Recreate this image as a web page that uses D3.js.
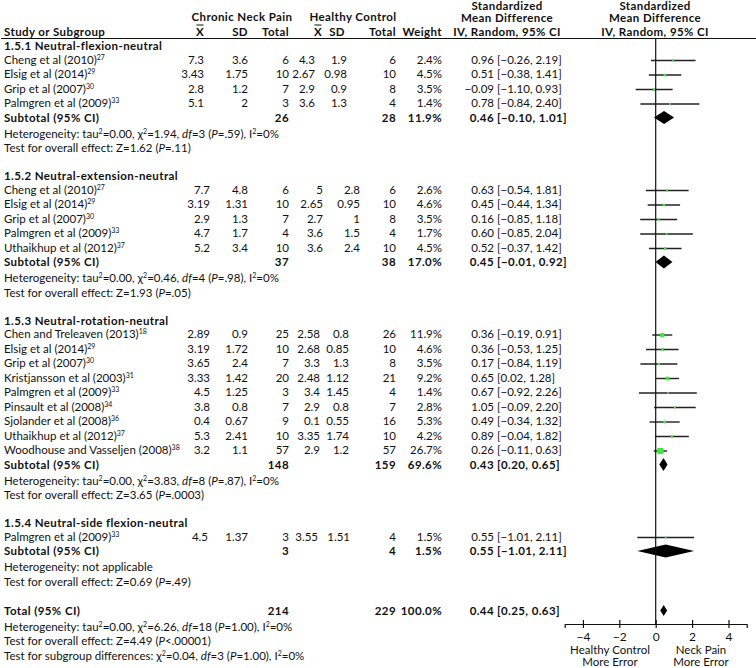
<!DOCTYPE html>
<html><head><meta charset="utf-8">
<script src="https://cdn.jsdelivr.net/npm/d3@7"></script>
<style>
body{margin:0;background:#fff}
svg{display:block}
text{font-family:Lato,'Open Sans',sans-serif;font-size:11.5px;fill:#111}
text.b{font-weight:bold;letter-spacing:0.4px}
</style>
</head><body>
<svg id="chart" width="756" height="668"></svg>
<script>
// ---------------- DATA ----------------
const groupTitles = ["1.5.1 Neutral-flexion-neutral","1.5.2 Neutral-extension-neutral","1.5.3 Neutral-rotation-neutral","1.5.4 Neutral-side flexion-neutral"];
const studyGroup = [0,0,0,0, 1,1,1,1,1, 2,2,2,2,2,2,2,2,2, 3];
const studyNames = ["Cheng et al (2010)","Elsig et al (2014)","Grip et al (2007)","Palmgren et al (2009)",
  "Cheng et al (2010)","Elsig et al (2014)","Grip et al (2007)","Palmgren et al (2009)","Uthaikhup et al (2012)",
  "Chen and Treleaven (2013)","Elsig et al (2014)","Grip et al (2007)","Kristjansson et al (2003)","Palmgren et al (2009)","Pinsault et al (2008)","Sjolander et al (2008)","Uthaikhup et al (2012)","Woodhouse and Vasseljen (2008)",
  "Palmgren et al (2009)"];
const studyRefs = ["27","29","30","33", "27","29","30","33","37", "18","29","30","31","33","34","36","37","38", "33"];
const cnpMean = [7.3,3.43,2.8,5.1, 7.7,3.19,2.9,4.7,5.2, 2.89,3.19,3.65,3.33,4.5,3.8,0.4,5.3,3.2, 4.5];
const cnpSD   = [3.6,1.75,1.2,2, 4.8,1.31,1.3,1.7,3.4, 0.9,1.72,2.4,1.42,1.25,0.8,0.67,2.41,1.1, 1.37];
const cnpN    = [6,10,7,3, 6,10,7,4,10, 25,10,7,20,3,7,9,10,57, 3];
const hcMean  = [4.3,2.67,2.9,3.6, 5,2.65,2.7,3.6,3.6, 2.58,2.68,3.3,2.48,3.4,2.9,0.1,3.35,2.9, 3.55];
const hcSD    = [1.9,0.98,0.9,1.3, 2.8,0.95,1,1.5,2.4, 0.8,0.85,1.3,1.12,1.45,0.8,0.55,1.74,1.2, 1.51];
const hcN     = [6,10,8,4, 6,10,8,4,10, 26,10,8,21,4,7,16,10,57, 4];
const studyWeight = [2.4,4.5,3.5,1.4, 2.6,4.6,3.5,1.7,4.5, 11.9,4.6,3.5,9.2,1.4,2.8,5.3,4.2,26.7, 1.5];
const studySMD = [0.96,0.51,-0.09,0.78, 0.63,0.45,0.16,0.60,0.52, 0.36,0.36,0.17,0.65,0.67,1.05,0.49,0.89,0.26, 0.55];
const studyLow = [-0.26,-0.38,-1.10,-0.84, -0.54,-0.44,-0.85,-0.85,-0.37, -0.19,-0.53,-0.84,0.02,-0.92,-0.09,-0.34,-0.04,-0.11, -1.01];
const studyHigh = [2.19,1.41,0.93,2.40, 1.81,1.34,1.18,2.04,1.42, 0.91,1.25,1.19,1.28,2.26,2.20,1.32,1.82,0.63, 2.11];

const subN1 = [26,37,148,3];
const subN2 = [28,38,159,4];
const subWeight = [11.9,17.0,69.6,1.5];
const subSMD = [0.46,0.45,0.43,0.55];
const subLow = [-0.10,-0.01,0.20,-1.01];
const subHigh = [1.01,0.92,0.65,2.11];
const hetTau2 = [0.00,0.00,0.00,null];
const hetChi2 = [1.94,0.46,3.83,null];
const hetDf = [3,4,8,null];
const hetP = [".59",".98",".87",null];
const hetI2 = [0,0,0,null];
const effZ = [1.62,1.93,3.65,0.69];
const effP = ["=.11","=.05","=.0003","=.49"];

const totalN1 = 214, totalN2 = 229, totalWeight = 100.0;
const totalSMD = 0.44, totalLow = 0.25, totalHigh = 0.63;
const totalHet = {tau2:0.00, chi2:6.26, df:18, p:"1.00", i2:0};
const totalZ = 4.49, totalP = "<.00001";
const subgroupDiff = {chi2:0.04, df:3, p:"1.00", i2:0};

const axisTicks = [-4,-2,0,2,4];
const axisDomain = [-5,5];
const leftAxisLabel = ["Healthy Control","More Error"];
const rightAxisLabel = ["Neck Pain","More Error"];

// ---------------- LAYOUT ----------------
const svg = d3.select("#chart");
const f2 = d3.format(".2f"), f1 = d3.format(".1f");
const x = d3.scaleLinear().domain(axisDomain).range([564.7, 746.7]);
const colCnpMean = [204,210,210,208];
const colCnpSD = 248, colCnpN = 289;
const colHcMean = [315,323,320,318];
const colHcSD = [347,360,349,350];
const colHcN = 396, colWeight = 442, colEstEnd = 494, colCIStart = 497;

function txt(xp, y, s, opt={}) {
  const t = svg.append("text").attr("x", xp).attr("y", y).text(s);
  if (opt.anchor) t.attr("text-anchor", opt.anchor);
  if (opt.bold) t.attr("class", "b");
  if (opt.size) t.style("font-size", opt.size + "px");
  return t;
}
function rich(xp, y, segs, opt={}) {
  const t = svg.append("text").attr("x", xp).attr("y", y);
  if (opt.bold) t.attr("class", "b");
  let shift = 0;
  segs.forEach(([s, st]) => {
    const ts = t.append("tspan").text(s);
    if (st === "sup") { ts.attr("dy", -4).style("font-size", "7px"); shift += 4; }
    else {
      if (shift) { ts.attr("dy", shift); shift = 0; }
      if (st === "it") ts.attr("font-style", "italic");
    }
  });
  return t;
}
function hetSegs(tau2, chi2, df, p, i2) {
  return [["Heterogeneity: tau",""],["2","sup"],["="+f2(tau2)+", χ",""],["2","sup"],["="+f2(chi2)+", ",""],
    ["df","it"],["="+df+" (",""],["P","it"],["="+p+"), I",""],["2","sup"],["="+i2+"%",""]];
}
function ciText(y, est, lo, hi, bold) {
  txt(colEstEnd, y, f2(est), {anchor:"end", bold});
  txt(colCIStart, y, "[" + f2(lo) + ", " + f2(hi) + "]", {bold});
}
function diamond(y, est, lo, hi, h) {
  svg.append("path")
    .attr("d", `M${x(lo)},${y}L${x(est)},${y-h}L${x(hi)},${y}L${x(est)},${y+h}Z`)
    .attr("fill", "#000");
}

// headers
const H1 = 21, H2 = 35.5;
txt(242, H1, "Chronic Neck Pain", {anchor:"middle", bold:true});
txt(353, H1, "Healthy Control", {anchor:"middle", bold:true});
txt(4, H2, "Study or Subgroup", {bold:true});
[200, 318].forEach(cx => {
  txt(cx, H2, "X", {anchor:"middle", bold:true});
  svg.append("line").attr("x1", cx-3.5).attr("x2", cx+3.5).attr("y1", H2-10.5).attr("y2", H2-10.5)
    .attr("stroke", "#111").attr("stroke-width", 1);
});
txt(colCnpSD, H2, "SD", {anchor:"end", bold:true});
txt(colCnpN, H2, "Total", {anchor:"end", bold:true});
txt(345, H2, "SD", {anchor:"end", bold:true});
txt(colHcN, H2, "Total", {anchor:"end", bold:true});
txt(colWeight, H2, "Weight", {anchor:"end", bold:true});
[507, 655].forEach(cx => {
  txt(cx, 10, "Standardized", {anchor:"middle", bold:true});
  txt(cx, 22, "Mean Difference", {anchor:"middle", bold:true});
  txt(cx, H2, "IV, Random, 95% CI", {anchor:"middle", bold:true});
});
svg.append("line").attr("x1", 1).attr("x2", 756).attr("y1", 38.5).attr("y2", 38.5)
  .attr("stroke", "#111").attr("stroke-width", 1);

// rows
let y = 46;
const BL = 4;
groupTitles.forEach((title, gi) => {
  txt(4, y + BL, title, {bold:true});
  y += 13.5;
  studyNames.forEach((name, i) => {
    if (studyGroup[i] !== gi) return;
    rich(4, y + BL, [[name,""],[studyRefs[i],"sup"]]);
    txt(colCnpMean[gi], y + BL, String(cnpMean[i]), {anchor:"end"});
    txt(colCnpSD, y + BL, String(cnpSD[i]), {anchor:"end"});
    txt(colCnpN, y + BL, String(cnpN[i]), {anchor:"end"});
    txt(colHcMean[gi], y + BL, String(hcMean[i]), {anchor:"end"});
    txt(colHcSD[gi], y + BL, String(hcSD[i]), {anchor:"end"});
    txt(colHcN, y + BL, String(hcN[i]), {anchor:"end"});
    txt(colWeight, y + BL, f1(studyWeight[i]) + "%", {anchor:"end"});
    ciText(y + BL, studySMD[i], studyLow[i], studyHigh[i], false);
    const my = y + 1;
    svg.append("line").attr("x1", x(studyLow[i])).attr("x2", x(studyHigh[i]))
      .attr("y1", my).attr("y2", my).attr("stroke", "#222").attr("stroke-width", 1.4);
    const s = Math.max(1.8, 1.2 * Math.sqrt(studyWeight[i]));
    svg.append("rect").attr("x", x(studySMD[i]) - s/2).attr("y", my - s/2)
      .attr("width", s).attr("height", s).attr("fill", "#3ee83e");
    y += 14.5;
  });
  txt(4, y + BL, "Subtotal (95% CI)", {bold:true});
  txt(colCnpN, y + BL, String(subN1[gi]), {anchor:"end", bold:true});
  txt(colHcN, y + BL, String(subN2[gi]), {anchor:"end", bold:true});
  txt(colWeight, y + BL, f1(subWeight[gi]) + "%", {anchor:"end", bold:true});
  ciText(y + BL, subSMD[gi], subLow[gi], subHigh[gi], true);
  diamond(y, subSMD[gi], subLow[gi], subHigh[gi], 6.5);
  y += 16;
  if (hetChi2[gi] === null) txt(4, y + BL, "Heterogeneity: not applicable");
  else rich(4, y + BL, hetSegs(hetTau2[gi], hetChi2[gi], hetDf[gi], hetP[gi], hetI2[gi]));
  y += 14.5;
  rich(4, y + BL, [["Test for overall effect: Z="+f2(effZ[gi])+" (",""],["P","it"],[effP[gi]+")",""]]);
  y += 28;
});
y += 1;
txt(4, y + BL, "Total (95% CI)", {bold:true});
txt(colCnpN, y + BL, String(totalN1), {anchor:"end", bold:true});
txt(colHcN, y + BL, String(totalN2), {anchor:"end", bold:true});
txt(colWeight, y + BL, f1(totalWeight) + "%", {anchor:"end", bold:true});
ciText(y + BL, totalSMD, totalLow, totalHigh, true);
diamond(y, totalSMD, totalLow, totalHigh, 5.5);
y += 16;
rich(4, y + BL, hetSegs(totalHet.tau2, totalHet.chi2, totalHet.df, totalHet.p, totalHet.i2));
y += 14.5;
rich(4, y + BL, [["Test for overall effect: Z="+f2(totalZ)+" (",""],["P","it"],[totalP+")",""]]);
y += 14.5;
rich(4, y + BL, [["Test for subgroup differences: χ",""],["2","sup"],["="+f2(subgroupDiff.chi2)+", ",""],
  ["df","it"],["="+subgroupDiff.df+" (",""],["P","it"],["="+subgroupDiff.p+"), I",""],["2","sup"],["="+subgroupDiff.i2+"%",""]]);

// plot axis + zero line
const axisY = 624;
svg.append("line").attr("x1", x(0)).attr("x2", x(0)).attr("y1", 38.5).attr("y2", axisY)
  .attr("stroke", "#111").attr("stroke-width", 1.2);
const ax = svg.append("g").attr("transform", `translate(0,${axisY})`)
  .call(d3.axisBottom(x).tickValues(axisTicks).tickSizeOuter(0).tickSize(4).tickPadding(4));
ax.select(".domain").attr("stroke", "#111").attr("stroke-width", 1.2);
ax.selectAll(".tick line").attr("y1", -4).attr("stroke", "#111").attr("stroke-width", 1.2);
ax.selectAll(".tick text").style("font-size", "12px").attr("fill", "#111")
  .style("font-family", "Lato,'Open Sans',sans-serif");
leftAxisLabel.forEach((s, i) => txt(610, 654 + i * 11.5, s, {anchor:"middle", size:11.5}));
rightAxisLabel.forEach((s, i) => txt(701, 654 + i * 11.5, s, {anchor:"middle", size:11.5}));
</script>
</body></html>
